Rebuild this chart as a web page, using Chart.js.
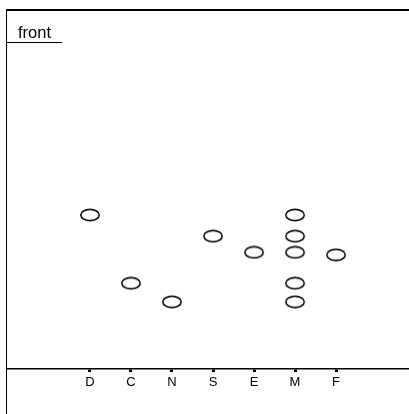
<!DOCTYPE html>
<html>
<head>
<meta charset="utf-8">
<script src="https://cdn.jsdelivr.net/npm/chart.js@4/dist/chart.umd.min.js"></script>
<style>
  html, body { margin: 0; padding: 0; background: #fff; }
  #wrap { position: relative; width: 409px; height: 414px; overflow: hidden; }
  #chart { position: absolute; left: 0; top: 0; }
  #frame {
    position: absolute; left: 6px; top: 9px; right: -4px; bottom: -4px;
    border-left: 1.5px solid #000; border-top: 2px solid #000;
    pointer-events: none;
  }
  #panel {
    position: absolute; left: 6px; top: 23px; width: 56px;
    font: 16.5px "Liberation Sans", Arial, sans-serif; color: #000;
    padding-left: 12px; box-sizing: border-box;
    border-bottom: 1.5px solid #000; line-height: 19px;
  }
</style>
</head>
<body>
<div id="wrap">
  <canvas id="chart" width="409" height="414"></canvas>
  <div id="frame"></div>
  <div id="panel">front</div>
</div>
<script>
// Category labels along the horizontal axis
const categories = ['D', 'C', 'N', 'S', 'E', 'M', 'F'];
// Observed values per category (several observations for M)
const valuesD = [42.9];
const valuesC = [23.9];
const valuesN = [18.7];
const valuesS = [37.0];
const valuesE = [32.5];
const valuesM = [42.9, 37.0, 32.5, 23.9, 18.7];
const valuesF = [31.8];
const seriesByCategory = [valuesD, valuesC, valuesN, valuesS, valuesE, valuesM, valuesF];

// Flatten to scatter points: x = category index, y = value
const points = [];
seriesByCategory.forEach((vals, i) => vals.forEach(v => points.push({ x: i, y: v })));

// Open ellipse marker
function ellipseMarker() {
  const c = document.createElement('canvas');
  c.width = 22; c.height = 14;
  const g = c.getContext('2d');
  g.strokeStyle = '#111';
  g.lineWidth = 1.6;
  g.beginPath();
  g.ellipse(11, 7, 9.2, 5.6, 0, 0, Math.PI * 2);
  g.stroke();
  return c;
}
const marker = ellipseMarker();

new Chart(document.getElementById('chart'), {
  type: 'scatter',
  data: {
    datasets: [{
      data: points,
      pointStyle: marker,
      pointRadius: 10,
      pointHoverRadius: 10
    }]
  },
  options: {
    responsive: false,
    animation: false,
    events: [],
    layout: { autoPadding: false, padding: { left: 7, top: 10, right: 0, bottom: 0 } },
    plugins: { legend: { display: false }, tooltip: { enabled: false } },
    scales: {
      x: {
        type: 'linear',
        min: -2.024,
        max: 7.78,
        afterBuildTicks: (scale) => { scale.ticks = categories.map((c, i) => ({ value: i })); },
        afterFit: (scale) => { scale.height = 45; },
        border: { display: true, color: '#000', width: 1.5 },
        grid: { drawOnChartArea: false, tickLength: 3, tickWidth: 3, tickColor: '#000' },
        ticks: {
          autoSkip: false,
          maxRotation: 0,
          padding: 3,
          color: '#000',
          font: { family: '"Liberation Sans", Arial, sans-serif', size: 13 },
          callback: (v) => categories[v] ?? ''
        }
      },
      y: {
        display: false,
        min: 0,
        max: 100
      }
    }
  }
});
</script>
</body>
</html>
